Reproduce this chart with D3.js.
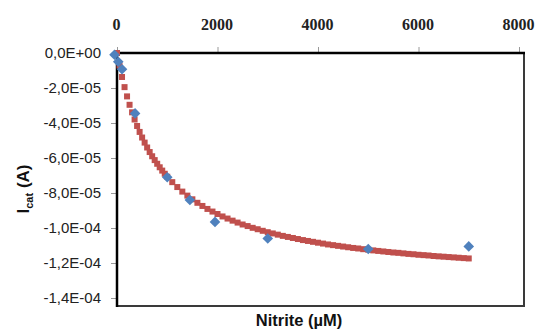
<!DOCTYPE html>
<html>
<head>
<meta charset="utf-8">
<script src="https://cdn.jsdelivr.net/npm/d3@7"></script>
<style>
  body { margin: 0; background: #fff; }
  svg { display: block; }
  .xlab text { font-family: "Liberation Serif", serif; font-weight: bold; font-size: 16px; fill: #222; }
  .ylab text { font-family: "Liberation Sans", sans-serif; font-size: 15px; fill: #222; }
  .title { font-family: "Liberation Sans", Arial, sans-serif; font-weight: bold; fill: #111; }
</style>
</head>
<body>
<div id="chart"></div>
<script>
// measured points (Nitrite uM, I_cat A)
var nitrite = [-50, 25, 100, 360, 1000, 1450, 1950, 3000, 5000, 7000];
var icat = [-0.1e-5, -0.5e-5, -0.93e-5, -3.45e-5, -7.1e-5, -8.4e-5, -9.65e-5, -10.6e-5, -11.2e-5, -11.05e-5];

// fitted curve (red squares), values in units of 1e-5 A
var fitX = [0, 50, 100, 150, 200, 250, 300, 350, 400, 450, 500, 550, 600, 650, 700, 750, 800, 850, 900, 950,
  1000, 1100, 1200, 1300, 1400, 1500, 1600, 1700, 1800, 1900, 2000, 2100, 2200, 2300, 2400, 2500, 2600, 2700,
  2800, 2900, 3000, 3100, 3200, 3300, 3400, 3500, 3600, 3700, 3800, 3900, 4000, 4100, 4200, 4300, 4400, 4500,
  4600, 4700, 4800, 4900, 5000, 5100, 5200, 5300, 5400, 5500, 5600, 5700, 5800, 5900, 6000, 6100, 6200, 6300,
  6400, 6500, 6600, 6700, 6800, 6900, 7000];
var fitY = [0, -0.72, -1.37, -1.95, -2.48, -2.96, -3.39, -3.80, -4.17, -4.51, -4.83, -5.12, -5.40, -5.66, -5.90,
  -6.12, -6.33, -6.53, -6.72, -6.90, -7.07, -7.38, -7.66, -7.92, -8.15, -8.36, -8.56, -8.74, -8.91, -9.06, -9.20,
  -9.34, -9.46, -9.58, -9.69, -9.80, -9.89, -9.99, -10.07, -10.16, -10.24, -10.31, -10.38, -10.45, -10.51, -10.57,
  -10.63, -10.69, -10.74, -10.79, -10.84, -10.89, -10.94, -10.98, -11.02, -11.06, -11.10, -11.14, -11.17, -11.21,
  -11.24, -11.28, -11.31, -11.34, -11.37, -11.40, -11.42, -11.45, -11.48, -11.50, -11.53, -11.55, -11.57, -11.60,
  -11.62, -11.64, -11.66, -11.68, -11.70, -11.72, -11.74];

var xTicks = [0, 2000, 4000, 6000, 8000];
var yTicks = [0, -2e-5, -4e-5, -6e-5, -8e-5, -1e-4, -1.2e-4, -1.4e-4];
var yTickLabels = ["0,0E+00", "-2,0E-05", "-4,0E-05", "-6,0E-05", "-8,0E-05", "-1,0E-04", "-1,2E-04", "-1,4E-04"];

var svgWidth = 538;
var svgHeight = 329;

var svg = d3.select("#chart").append("svg")
  .attr("width", svgWidth)
  .attr("height", svgHeight);

var xScale = d3.scaleLinear().domain([0, 8000]).range([117, 519]);
var yScale = d3.scaleLinear().domain([0, -1.4e-4]).range([53, 298]);

var plotLeft = xScale(0), plotTop = yScale(0);
var plotRight = xScale(8000) + 5, plotBottom = yScale(-1.4e-4) + 8;

// axes
var xAxis = d3.axisTop(xScale).tickValues(xTicks).tickSize(6).tickPadding(5).tickFormat(d3.format("d"));
var gx = svg.append("g").attr("class", "xlab")
  .attr("transform", `translate(0, ${plotTop})`)
  .call(xAxis);
gx.select(".domain").remove();
gx.selectAll(".tick line").attr("stroke", "#999");
gx.selectAll(".tick text").attr("dy", 0).attr("y", -23).attr("dx", -1);

var yAxis = d3.axisLeft(yScale).tickValues(yTicks).tickSize(6).tickPadding(10)
  .tickFormat((d, i) => yTickLabels[i]);
var gy = svg.append("g").attr("class", "ylab")
  .attr("transform", `translate(${plotLeft}, 0)`)
  .call(yAxis);
gy.select(".domain").remove();
gy.selectAll(".tick line").attr("stroke", "#999");
gy.selectAll(".tick text").attr("dy", "0.33em");

// frame
svg.append("line").attr("x1", plotRight).attr("x2", plotRight).attr("y1", plotTop).attr("y2", plotBottom)
  .attr("stroke", "#3a3a3a").attr("stroke-width", 2);
svg.append("line").attr("x1", plotLeft).attr("x2", plotRight + 1).attr("y1", plotBottom).attr("y2", plotBottom)
  .attr("stroke", "#3a3a3a").attr("stroke-width", 2);
svg.append("line").attr("x1", plotLeft).attr("x2", plotLeft).attr("y1", plotTop - 1.2).attr("y2", plotBottom + 1)
  .attr("stroke", "#000").attr("stroke-width", 2.5);
svg.append("line").attr("x1", plotLeft - 1.2).attr("x2", plotRight + 1).attr("y1", plotTop).attr("y2", plotTop)
  .attr("stroke", "#000").attr("stroke-width", 2.5);

// fitted curve squares
svg.append("g").selectAll("rect")
  .data(fitX)
  .enter()
  .append("rect")
  .attr("x", (d, i) => xScale(d) - 3)
  .attr("y", (d, i) => yScale(fitY[i] * 1e-5) - 3)
  .attr("width", 6)
  .attr("height", 6)
  .attr("fill", "#C0504D");

// measured diamonds
svg.append("g").selectAll("path")
  .data(nitrite)
  .enter()
  .append("path")
  .attr("d", "M0,-5.3L5.3,0L0,5.3L-5.3,0Z")
  .attr("transform", (d, i) => `translate(${xScale(d)}, ${yScale(icat[i])})`)
  .attr("fill", "#4F81BD");

// axis titles
var yt = svg.append("text")
  .attr("class", "title")
  .attr("transform", "translate(29, 189) rotate(-90)")
  .attr("text-anchor", "middle")
  .style("font-size", "17px");
yt.append("tspan").text("I");
yt.append("tspan").attr("dy", 4).style("font-size", "11px").text("cat");
yt.append("tspan").attr("dy", -4).text(" (A)");

svg.append("text")
  .attr("class", "title")
  .attr("x", 299)
  .attr("y", 326)
  .attr("text-anchor", "middle")
  .style("font-size", "16.5px")
  .text("Nitrite (\u00b5M)");
</script>
</body>
</html>
